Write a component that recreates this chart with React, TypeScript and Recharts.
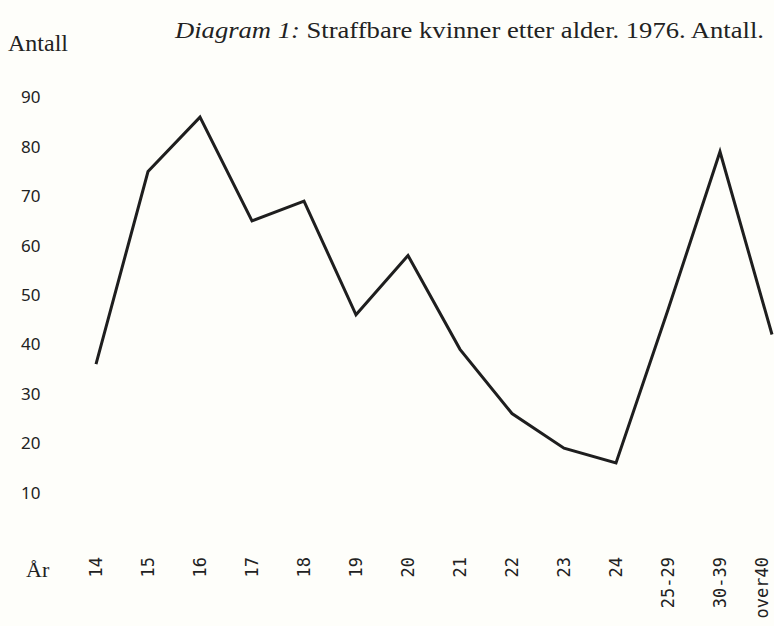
import { LineChart, Line, XAxis, YAxis } from "recharts";

const ageLabels = ["14", "15", "16", "17", "18", "19", "20", "21", "22", "23", "24", "25-29", "30-39", "over40"];
const counts = [36, 75, 86, 65, 69, 46, 58, 39, 26, 19, 16, 47, 79, 42];
const yTicks = [10, 20, 30, 40, 50, 60, 70, 80, 90];

const data = ageLabels.map((age, i) => ({ age, count: counts[i] }));

const YTick = (props: any) => {
  const { y, payload } = props;
  return (
    <text x={21} y={y} dy={6} fill="#222" fontSize={17} fontFamily="'Noto Sans', sans-serif">
      {payload.value}
    </text>
  );
};

const XTick = (props: any) => {
  const { x, y, payload } = props;
  // keep the last label inside the picture
  const tx = Math.min(x, 762);
  const ty = y + 7;
  return (
    <text
      x={tx}
      y={ty}
      transform={`rotate(-90, ${tx}, ${ty})`}
      textAnchor="end"
      dominantBaseline="central"
      fill="#222"
      fontSize={17}
      fontFamily="'DejaVu Sans Mono', monospace"
    >
      {payload.value}
    </text>
  );
};

export default function App() {
  return (
    <div
      style={{
        position: "absolute",
        left: 0,
        top: 0,
        width: 774,
        height: 626,
        background: "#fefefa",
        overflow: "hidden",
      }}
    >
      <svg width={774} height={60} style={{ position: "absolute", left: 0, top: 0 }}>
        <text
          x={175}
          y={38}
          fontSize={24}
          fontFamily="'Liberation Serif', serif"
          fill="#222"
          textLength={589}
          lengthAdjust="spacingAndGlyphs"
        >
          <tspan fontStyle="italic">Diagram 1:</tspan> Straffbare kvinner etter alder. 1976. Antall.
        </text>
        <text x={8} y={51} fontSize={24} fontFamily="'Liberation Serif', serif" fill="#222">
          Antall
        </text>
      </svg>
      <svg width={80} height={40} style={{ position: "absolute", left: 0, top: 548 }}>
        <text x={26} y={29} fontSize={22} fontFamily="'Liberation Serif', serif" fill="#222">
          År
        </text>
      </svg>
      <LineChart
        width={774}
        height={626}
        data={data}
        margin={{ top: 48, right: 2, bottom: 0, left: 0 }}
        style={{ position: "absolute", left: 0, top: 0 }}
      >
        <XAxis
          dataKey="age"
          interval={0}
          height={84}
          axisLine={false}
          tickLine={false}
          tick={<XTick />}
          padding={{ left: 0, right: 0 }}
        />
        <YAxis
          domain={[0, 100]}
          ticks={yTicks}
          width={96}
          axisLine={false}
          tickLine={false}
          tick={<YTick />}
        />
        <Line
          type="linear"
          dataKey="count"
          stroke="#1e1e1e"
          strokeWidth={3}
          dot={false}
          isAnimationActive={false}
        />
      </LineChart>
    </div>
  );
}
